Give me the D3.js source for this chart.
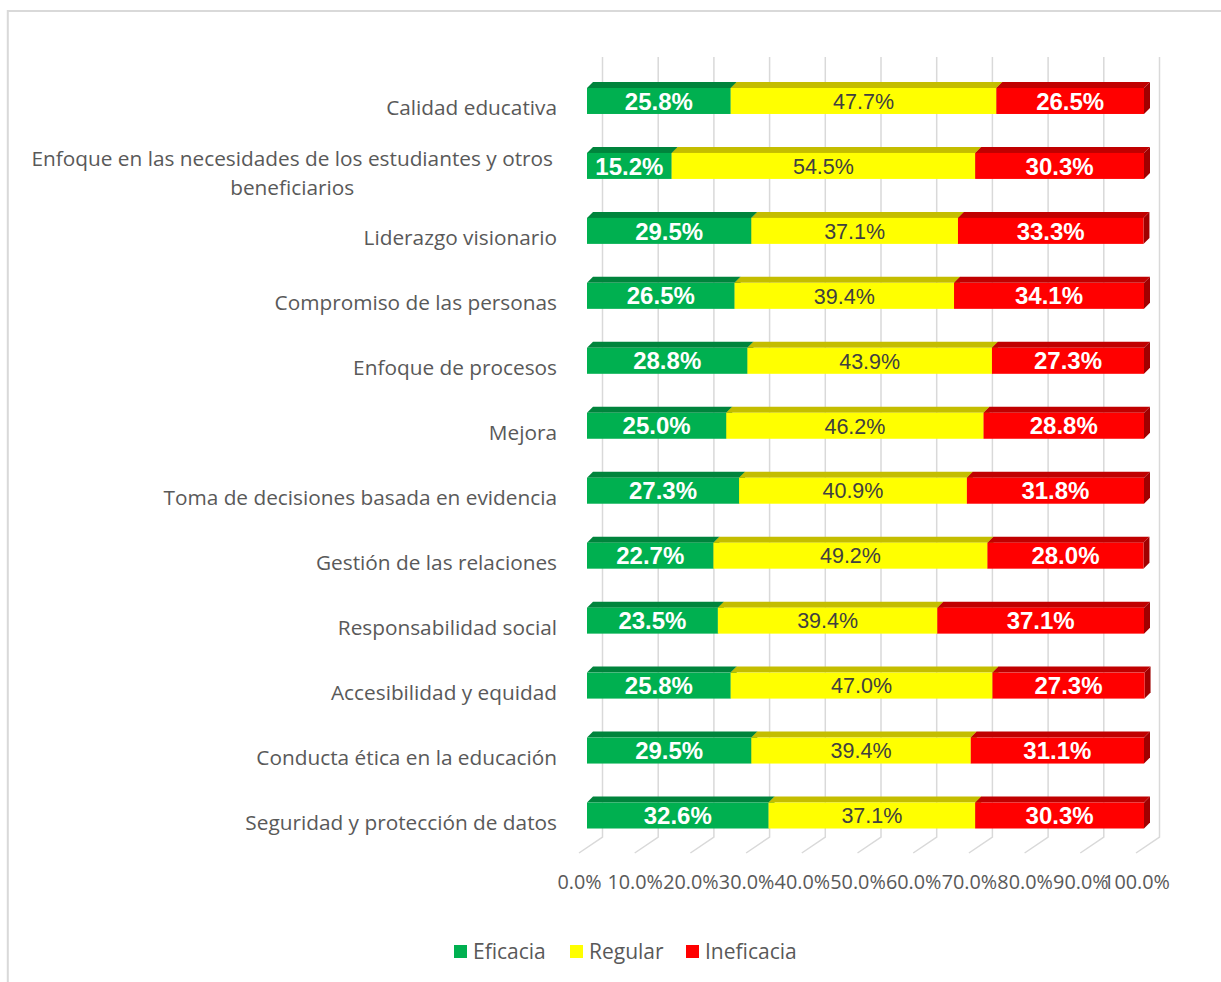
<!DOCTYPE html>
<html>
<head>
<meta charset="utf-8">
<script src="https://cdn.jsdelivr.net/npm/d3@7"></script>
<style>
  body { margin: 0; background: #fff; }
  svg { display: block; }
</style>
</head>
<body>
<svg id="chart" width="1221" height="982"></svg>
<script>
var categories = [
    "Calidad educativa",
    "Enfoque en las necesidades de los estudiantes y otros|beneficiarios",
    "Liderazgo visionario",
    "Compromiso de las personas",
    "Enfoque de procesos",
    "Mejora",
    "Toma de decisiones basada en evidencia",
    "Gestión de las relaciones",
    "Responsabilidad social",
    "Accesibilidad y equidad",
    "Conducta ética en la educación",
    "Seguridad y protección de datos"
];
var eficacia   = [25.8, 15.2, 29.5, 26.5, 28.8, 25.0, 27.3, 22.7, 23.5, 25.8, 29.5, 32.6];
var regular    = [47.7, 54.5, 37.1, 39.4, 43.9, 46.2, 40.9, 49.2, 39.4, 47.0, 39.4, 37.1];
var ineficacia = [26.5, 30.3, 33.3, 34.1, 27.3, 28.8, 31.8, 28.0, 37.1, 27.3, 31.1, 30.3];
var tickValues = [0, 10, 20, 30, 40, 50, 60, 70, 80, 90, 100];
var tickLabels = ["0.0%", "10.0%", "20.0%", "30.0%", "40.0%", "50.0%", "60.0%", "70.0%", "80.0%", "90.0%", "100.0%"];

var seriesNames = ["Eficacia", "Regular", "Ineficacia"];
var seriesData = [eficacia, regular, ineficacia];
var front = ["#00b050", "#ffff00", "#ff0000"],
    top_ = ["#00843c", "#c4bd00", "#c00000"],
    side = ["#006c30", "#a09a00", "#a00000"];

var svg = d3.select('#chart');
var depth = 6;
var textFont = '"Open Sans", "Noto Sans", sans-serif';

// frame
svg.append('path')
    .attr('d', 'M7.8,982 L7.8,11 L1221,11')
    .attr('fill', 'none')
    .attr('stroke', '#d9d9d9')
    .attr('stroke-width', 2);

var x = d3.scaleLinear().domain([0, 100]).range([587, 1144]);
var xFloor = d3.scaleLinear().domain([0, 100]).range([579, 1136]);
var y = d3.scaleBand().domain(d3.range(categories.length))
    .range([68.5, 848]).paddingInner(0.6).paddingOuter(0.3);

// gridlines (back wall + floor)
var grid = svg.append('g').attr('class', 'grid');
tickValues.forEach(function(v) {
    var bx = x(v) + 15.5;
    grid.append('path')
        .attr('d', 'M' + bx + ',57 L' + bx + ',837 L' + xFloor(v) + ',853')
        .attr('fill', 'none')
        .attr('stroke', '#d9d9d9')
        .attr('stroke-width', 1.5);
});

// bars
var bars = svg.append('g').attr('class', 'bars');
categories.forEach(function(c, i) {
    var y0 = y(i), h = y.bandwidth();
    var acc = 0;
    seriesData.forEach(function(s, k) {
        var x0 = x(acc), x1 = x(acc + s[i]);
        acc += s[i];
        var g = bars.append('g');
        g.append('path')
            .attr('d', 'M' + x1 + ',' + y0 + ' L' + (x1 + depth) + ',' + (y0 - depth) +
                ' L' + (x1 + depth) + ',' + (y0 + h - depth) + ' L' + x1 + ',' + (y0 + h) + 'Z')
            .attr('fill', side[k]);
        g.append('path')
            .attr('d', 'M' + x0 + ',' + y0 + ' L' + (x0 + depth) + ',' + (y0 - depth) +
                ' L' + (x1 + depth) + ',' + (y0 - depth) + ' L' + x1 + ',' + y0 + 'Z')
            .attr('fill', top_[k]);
        g.append('rect')
            .attr('x', x0).attr('y', y0)
            .attr('width', x1 - x0).attr('height', h)
            .attr('fill', front[k]);
    });
});

// data labels (drawn after all bars so none are covered)
var labels = svg.append('g').attr('class', 'labels');
categories.forEach(function(c, i) {
    var acc = 0;
    seriesData.forEach(function(s, k) {
        var cx = x(acc + s[i] / 2);
        acc += s[i];
        labels.append('text')
            .attr('x', cx)
            .attr('y', y(i) + y.bandwidth() / 2)
            .attr('dy', '0.36em')
            .attr('text-anchor', 'middle')
            .style('font-family', '"Liberation Sans", Arial, sans-serif')
            .style('font-size', k == 1 ? '21.5px' : '24px')
            .style('font-weight', k == 1 ? 'normal' : 'bold')
            .style('fill', k == 1 ? '#404040' : '#ffffff')
            .text(s[i].toFixed(1) + '%');
    });
});

// category labels
var catG = svg.append('g').attr('class', 'categories')
    .style('font-family', textFont)
    .style('font-size', '20.8px')
    .style('fill', '#595959');
categories.forEach(function(c, i) {
    var cy = y(i) + y.bandwidth() / 2 + 7;
    var lines = c.split('|');
    if (lines.length == 1) {
        catG.append('text')
            .attr('x', 557).attr('y', cy).attr('dy', '0.35em')
            .attr('text-anchor', 'end')
            .text(c);
    } else {
        var t1 = catG.append('text')
            .attr('y', cy - 14.5).attr('dy', '0.35em')
            .attr('text-anchor', 'middle')
            .text(lines[0]);
        var w = t1.node().getComputedTextLength();
        var mid = 553 - w / 2;
        t1.attr('x', mid);
        catG.append('text')
            .attr('x', mid).attr('y', cy + 14.5).attr('dy', '0.35em')
            .attr('text-anchor', 'middle')
            .text(lines[1]);
    }
});

// value axis
var axis = d3.axisBottom(xFloor)
    .tickValues(tickValues)
    .tickFormat(function(d, i) { return tickLabels[i]; })
    .tickSize(0)
    .tickPadding(22);
var axG = svg.append('g')
    .attr('transform', 'translate(0,853)')
    .call(axis);
axG.select('.domain').remove();
axG.selectAll('text')
    .style('font-family', textFont)
    .style('font-size', '19.8px')
    .style('fill', '#595959');

// legend
var legendX = [454, 570, 686];
var leg = svg.append('g').attr('class', 'legend');
seriesNames.forEach(function(n, k) {
    leg.append('rect')
        .attr('x', legendX[k]).attr('y', 945)
        .attr('width', 13).attr('height', 13)
        .attr('fill', front[k]);
    leg.append('text')
        .attr('x', legendX[k] + 19).attr('y', 952).attr('dy', '0.35em')
        .style('font-family', textFont)
        .style('font-size', '21px')
        .style('fill', '#595959')
        .text(n);
});
</script>
</body>
</html>
